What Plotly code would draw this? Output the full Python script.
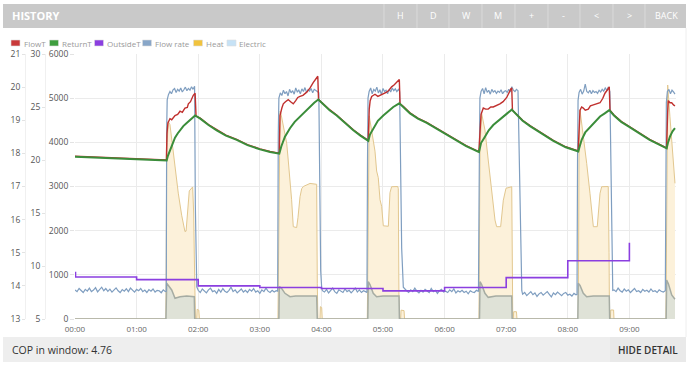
import pandas as pd
import plotly.graph_objects as go

BASE = pd.Timestamp("2024-01-01 00:00")

# ---------------- data (minutes since 00:00, values) ----------------
returnT_min = [0, 30, 60, 89.3, 90.5, 92.5, 95, 97.4, 100, 102.3, 105.5, 108.8, 112, 116.2, 117.0,
               122, 130, 138, 147, 157.5, 168, 180.2, 190, 199.0,
               201, 204.5, 209.4, 214, 219.2, 224, 228.9, 233, 237.0,
               242, 248, 254.9, 263, 271.1, 278, 285.7,
               287.3, 290.5, 295, 300.3, 305, 310, 315.9,
               320, 326.3, 334, 342.6, 355, 368.5, 381, 393.5,
               395.5, 399.3, 403, 407.4, 412, 417.2, 421, 425.4,
               430, 436, 443.2, 454, 465.9, 478, 490.2,
               491.9, 493.5, 497, 501.6, 506, 511.4, 516, 520.4,
               525, 532, 540.2, 550, 559.7, 568, 576.3,
               577.5, 579.5, 582, 584.4]
returnT_val = [20.3, 20.2, 20.1, 19.95, 20.4, 20.9, 21.6, 22.1, 22.5, 22.8, 23.2, 23.5, 23.8, 24.15, 24.2,
               23.9, 23.3, 22.8, 22.3, 21.9, 21.4, 21.0, 20.75, 20.6,
               21.3, 22.2, 23.0, 23.6, 24.1, 24.6, 25.0, 25.4, 25.7,
               25.2, 24.7, 24.2, 23.5, 22.8, 22.3, 21.8,
               22.4, 23.0, 23.7, 24.2, 24.6, 25.0, 25.35,
               25.0, 24.4, 23.9, 23.5, 22.8, 22.0, 21.3, 20.75,
               21.6, 22.2, 22.8, 23.3, 23.7, 24.1, 24.4, 24.75,
               24.3, 23.7, 23.2, 22.5, 21.8, 21.2, 20.8,
               21.4, 21.9, 22.6, 23.1, 23.6, 24.1, 24.4, 24.7,
               24.2, 23.6, 23.1, 22.5, 21.9, 21.5, 21.1,
               21.6, 22.2, 22.7, 23.0]

flowT_min = [0, 30, 60, 89.0, 89.6, 90.5, 92.5, 94.2, 97.4, 100, 102.3, 104.5, 107.1, 109.4, 110.4, 112.5, 115.2, 116.2, 117.0, 117.9,
             122, 130, 138, 147, 157.5, 168, 180.2, 190, 198.9,
             199.7, 201.5, 202.9, 205, 207.7, 210, 212.6, 215, 217, 219.2, 222, 225.7, 229, 232, 235.4, 236.5, 237.2,
             242, 248, 254.9, 263, 271.1, 278, 285.6,
             286.6, 287.5, 289.0, 292.2, 295, 297.1, 300.3, 303.6, 306, 308.4, 311, 314.9, 315.9, 316.6,
             320, 326.3, 334, 342.6, 355, 368.5, 381, 393.4,
             395.5, 397.7, 400, 402.5, 405, 407.4, 410, 413.9, 417, 420.5, 424.5, 425.4, 426.1,
             430, 436, 443.2, 454, 465.9, 478, 490.1,
             491.9, 493.5, 495.1, 497, 500, 502, 504.9, 508, 511.4, 514, 516.2, 518.5, 520.4, 521.1,
             525, 532, 540.2, 550, 559.7, 568, 576.2,
             577.3, 577.9, 579.5, 581.2, 583, 584.4]
flowT_val = [20.35, 20.25, 20.15, 20.0, 22.5, 23.5, 23.9, 23.8, 24.2, 24.3, 24.6, 24.5, 24.9, 24.95, 25.3, 25.5, 26.1, 26.3, 26.3, 24.15,
             23.95, 23.35, 22.85, 22.35, 21.95, 21.45, 21.05, 20.8, 20.65,
             24.2, 24.9, 25.3, 25.5, 25.7, 25.5, 25.3, 25.6, 25.9, 26.0, 26.1, 26.4, 26.8, 27.3, 27.85, 27.9, 25.7,
             25.25, 24.75, 24.25, 23.55, 22.85, 22.35, 21.85,
             24.8, 25.6, 26.0, 26.2, 26.0, 26.1, 26.3, 26.4, 26.6, 26.9, 27.1, 27.5, 27.6, 25.3,
             25.05, 24.45, 23.95, 23.55, 22.85, 22.05, 21.35, 20.8,
             24.3, 24.9, 24.8, 24.8, 25.0, 25.0, 25.1, 25.3, 25.5, 25.9, 26.7, 26.8, 24.7,
             24.35, 23.75, 23.25, 22.55, 21.85, 21.25, 20.85,
             24.7, 25.0, 24.9, 24.7, 24.8, 25.1, 25.2, 25.3, 25.4, 25.8, 26.3, 26.6, 26.9, 24.7,
             24.25, 23.65, 23.15, 22.55, 21.95, 21.55, 21.15,
             24.5, 25.6, 25.4, 25.4, 25.2, 25.1]

outside_min = [0, 0.5, 60, 120, 180, 240, 300, 360, 420, 480, 540]
outside_val = [14.40, 14.27, 14.19, 14.00, 13.95, 13.92, 13.85, 13.95, 14.25, 14.76, 15.30]

flowrate_min = [0, 2, 4, 6, 8, 10, 12, 14, 16, 18, 20, 22, 24, 26, 28, 30, 32, 34, 36, 38, 40, 42, 44, 46, 48,
                50, 52, 54, 56, 58, 60, 62, 64, 66, 68, 70, 72, 74, 76, 78, 80, 82, 84, 86, 88, 88.9,
                89.3, 89.8, 91, 92.5, 94, 95.5, 97, 98.5, 100, 101.5, 103, 104.5, 106, 107.5, 109, 110.5, 112, 113.5,
                115, 116.5, 117.2, 118, 118.6,
                120, 122, 124, 126, 128, 130, 132, 134, 136, 138, 140, 142, 144, 146, 148, 150, 152, 154, 156, 158,
                160, 162, 164, 166, 168, 170, 172, 174, 176, 178, 180, 182, 184, 186, 188, 190, 192, 194, 196, 197.4,
                198.0, 198.6, 200, 201.5, 203, 204.5, 206, 207.5, 209, 210.5, 212, 213.5, 215, 216.5, 218, 219.5,
                221, 222.5, 224, 225.5, 227, 228.5, 230, 231.5, 233, 234.5, 236, 237.5, 238.6, 239.3, 240.3,
                241, 243, 245, 247, 249, 251, 253, 255, 257, 259, 261, 263, 265, 267, 269, 271, 273, 275, 277, 279,
                281, 283, 284.4,
                284.9, 285.4, 286.5, 288, 289.5, 291, 292.5, 294, 295.5, 297, 298.5, 300, 301.5, 303, 304.5, 306,
                307.5, 309, 310.5, 312, 313.5, 315, 316.2, 317.2, 318.2, 319.8,
                321, 323, 325, 327, 329, 331, 333, 335, 337, 339, 341, 343, 345, 347, 349, 351, 353, 355, 357, 359,
                361, 363, 365, 367, 369, 371, 373, 375, 377, 379, 381, 383, 385, 387, 389, 391, 393,
                393.9, 394.4, 395.5, 397, 398.5, 400, 401.5, 403, 404.5, 406, 407.5, 409, 410.5, 412, 413.5, 415,
                416.5, 418, 419.5, 421, 422.5, 424, 425.5, 427, 428.5, 430, 431.5, 432.8, 434, 435.2,
                436, 438, 440, 442, 444, 446, 448, 450, 452, 454, 456, 458, 460, 462, 464, 466, 468, 470, 472, 474,
                476, 478, 480, 482, 484, 486, 488, 489.0,
                489.5, 490.0, 491, 492.5, 494, 495.5, 497, 498.5, 500, 501.5, 503, 504.5, 506, 507.5, 509, 510.5,
                512, 513.5, 515, 516.5, 518, 519.5, 521.0, 522.0, 523.0, 523.8,
                525, 527, 529, 531, 533, 535, 537, 539, 541, 543, 545, 547, 549, 551, 553, 555, 557, 559, 561, 563,
                565, 567, 569, 571, 573, 575,
                575.5, 576.0, 577, 578.5, 580, 581.5, 583, 584.4]
flowrate_val = [660, 620, 690, 640, 600, 670, 630, 700, 620, 655, 710, 615, 665, 720, 640, 690, 625, 675, 610, 650,
                705, 640, 600, 665, 630, 685, 620, 700, 650, 610, 670, 640, 690, 620, 655, 600, 665, 630, 680, 610,
                650, 640, 595, 660, 620, 630,
                4300, 4960, 5080, 5150, 5100, 5190, 5220, 5130, 5200, 5160, 5230, 5140, 5190, 5250, 5170, 5220, 5180,
                5260, 5200, 5270, 2600, 900, 730,
                650, 600, 680, 630, 590, 660, 700, 620, 640, 580, 670, 610, 690, 630, 600, 650, 720, 620, 660, 590,
                640, 680, 610, 650, 600, 670, 630, 690, 610, 640, 580, 660, 620, 700, 630, 600, 650, 610, 640, 630,
                4200, 5000, 5120, 5060, 5180, 5100, 5150, 5050, 5200, 5120, 5170, 5090, 5230, 5140, 5180, 5100,
                5210, 5150, 5240, 5130, 5190, 5160, 5220, 5120, 5200, 5180, 5150, 5120, 3000, 1100, 700,
                640, 610, 670, 590, 650, 700, 620, 580, 660, 630, 600, 680, 620, 650, 590, 640, 700, 610, 660, 600,
                640, 620, 600,
                3500, 5000, 5150, 5230, 5100, 5200, 5160, 5250, 5120, 5190, 5080, 5220, 5150, 5180, 5100, 5200,
                5140, 5230, 5170, 5210, 5150, 5200, 5150, 3600, 1600, 720,
                680, 640, 600, 660, 620, 700, 630, 590, 650, 610, 670, 640, 600, 690, 620, 650, 580, 640, 670, 610,
                630, 600, 660, 620, 680, 590, 640, 610, 650, 600, 630, 570, 640, 610, 600, 650, 620,
                3800, 5000, 5150, 5220, 5100, 5240, 5130, 5180, 5090, 5200, 5140, 5170, 5110, 5160, 5130, 5190,
                5100, 5150, 5170, 5130, 5200, 5140, 5260, 5180, 5150, 5200, 5170, 3200, 1400, 640,
                560, 600, 530, 580, 620, 550, 590, 510, 570, 600, 540, 580, 620, 560, 500, 590, 550, 610, 570, 530,
                580, 600, 540, 560, 520, 580, 550, 560,
                3600, 4950, 5130, 5200, 5090, 5160, 5320, 5150, 5120, 5180, 5100, 5170, 5130, 5150, 5110, 5180,
                5140, 5200, 5160, 5230, 5180, 5250, 5150, 3000, 1200, 650,
                660, 620, 700, 640, 610, 680, 630, 660, 600, 650, 690, 620, 640, 600, 670, 630, 650, 610, 680, 620,
                640, 600, 660, 630, 610, 640,
                3000, 4900, 5150, 5200, 5100, 5180, 5140, 5090]

heat_min = [0, 88.6,
            89.3, 90.9, 92.5, 94.2, 97.4, 100.6, 103.9, 107.1, 108.2, 109.4, 111.3, 114.6, 115.6, 116.2, 116.9, 117.3,
            118.5, 119.0, 120.6, 121.2,
            197.7, 199.0, 199.7, 200.6, 202.9, 204.5, 206.2, 207.7, 209.4, 211.0, 212.6, 215.9, 217.2, 219.2, 220.8,
            222.4, 228.9, 235.4, 236.0, 236.6, 238.6, 239.0, 240.3, 240.8,
            284.7, 285.7, 286.6, 287.3, 289.0, 290.5, 292.2, 293.8, 295.4, 297.1, 298.7, 300.3, 305.2, 306.8, 308.4,
            314.4, 314.9, 315.6, 316.0, 317.2, 317.6, 320.5, 321.0,
            393.5, 394.5, 396.1, 397.7, 399.3, 402.5, 405.8, 409.1, 410.7, 414.6, 417.2, 419.8, 425.4, 426.0, 426.4,
            426.9, 427.3, 430.0, 430.5,
            490.2, 491.0, 491.9, 493.5, 495.1, 498.4, 501.6, 504.3, 504.9, 508.7, 511.4, 513.0, 519.4, 520.2, 520.6,
            521.5, 521.8, 524.6, 525.0,
            575.6, 576.3, 577.3, 579.5, 582.2, 584.4]
heat_val = [0, 0,
            3800, 4470, 4400, 4050, 3400, 2850, 2350, 1980, 1990, 2300, 2900, 2990, 2400, 1450, 150, 0,
            0, 220, 200, 0,
            0, 4000, 4700, 4650, 4400, 4200, 3980, 3600, 3200, 2700, 2090, 2070, 2300, 2770, 2950,
            3000, 3070, 3050, 800, 0, 0, 280, 260, 0,
            0, 3900, 4600, 4500, 4250, 3950, 3800, 3350, 3200, 2700, 2550, 2110, 2100, 2860, 2995,
            3000, 2950, 300, 0, 0, 200, 190, 0,
            0, 3900, 4650, 4500, 4280, 3600, 2850, 2240, 2090, 2090, 2690, 2960, 2995, 400, 0,
            0, 165, 165, 0,
            0, 4000, 4730, 4450, 4130, 3525, 2846, 2316, 2090, 2090, 2846, 2995, 3000, 1500, 0,
            0, 204, 204, 0,
            0, 3500, 5298, 4580, 3826, 3072]

elec_min = [0, 88.6, 89.3, 91.0, 94.2, 97.4, 102.3, 108.8, 114.6, 116.2, 116.6,
            198.6, 199.0, 201.0, 204.5, 209.4, 215, 235.4, 236.0,
            285.2, 285.7, 287.3, 290.5, 293.8, 300, 315.6, 316.0,
            394.0, 394.5, 396.1, 399.3, 402.5, 410, 425.4, 425.8,
            489.8, 490.2, 491.9, 495.1, 498.4, 505, 520.4, 520.8,
            575.8, 576.3, 578.0, 581.2, 584.4]
elec_val = [0, 0, 808, 760, 657, 468, 505, 520, 505, 505, 0,
            0, 731, 700, 582, 505, 520, 520, 0,
            0, 845, 780, 582, 505, 520, 520, 0,
            0, 845, 780, 582, 490, 520, 520, 0,
            0, 808, 760, 582, 505, 520, 520, 0,
            0, 883, 800, 543, 446]

hour_ticks = [0, 1, 2, 3, 4, 5, 6, 7, 8, 9]
x_end_min = 585.4

legend_names = ["FlowT", "ReturnT", "OutsideT", "Flow rate", "Heat", "Electric"]
legend_colors = ["#c9393a", "#3e9e3e", "#8b3fe0", "#88a6c8", "#f1c33e", "#c6e2f6"]
header_buttons = ["H", "D", "W", "M", "+", "-", "<", ">", "BACK"]
cop_value = 4.76


def tt(mins):
    return BASE + pd.to_timedelta(mins, unit="min")


W, H = 690, 368
FONT = "Open Sans"


def px(x):
    return x / W


def py(y):
    return 1 - y / H


fig = go.Figure()

fig.add_trace(go.Scatter(x=tt(heat_min), y=heat_val, mode="lines", line=dict(color="#e2c78f", width=1),
                         fill="tozeroy", fillcolor="#fcf1da", yaxis="y", hoverinfo="skip"))
fig.add_trace(go.Scatter(x=tt(elec_min), y=elec_val, mode="lines", line=dict(color="#a6aca3", width=1.5),
                         fill="tozeroy", fillcolor="#dfe2d7", yaxis="y", hoverinfo="skip"))
fig.add_trace(go.Scatter(x=tt(flowrate_min), y=flowrate_val, mode="lines", line=dict(color="#7f9ec0", width=1.2),
                         yaxis="y", hoverinfo="skip"))
fig.add_trace(go.Scatter(x=tt(outside_min), y=outside_val, mode="lines", line=dict(color="#8b3fe0", width=1.6, shape="hv"),
                         yaxis="y3", hoverinfo="skip"))
fig.add_trace(go.Scatter(x=tt(flowT_min), y=flowT_val, mode="lines", line=dict(color="#c0302e", width=1.4),
                         yaxis="y2", hoverinfo="skip"))
fig.add_trace(go.Scatter(x=tt(returnT_min), y=returnT_val, mode="lines", line=dict(color="#3a8d3a", width=2),
                         yaxis="y2", hoverinfo="skip"))

tickfont = dict(family=FONT, size=8.5, color="#555")

fig.update_layout(
    width=W, height=H, margin=dict(l=0, r=0, t=0, b=0, pad=0, autoexpand=False),
    paper_bgcolor="white", plot_bgcolor="white", showlegend=False,
    xaxis=dict(type="date", domain=[px(75), px(676)], range=[tt(0), tt(x_end_min)],
               tickvals=[tt(h * 60) for h in hour_ticks], tickformat="%H:%M",
               showgrid=True, gridcolor="#ebebeb", gridwidth=1, zeroline=False, showline=False,
               ticks="outside", ticklen=2, tickcolor="rgba(0,0,0,0)",
               tickfont=dict(family=FONT, size=8, color="#666"), automargin=False),
    yaxis=dict(domain=[py(319), py(54)], range=[0, 6000], dtick=1000, showgrid=True, gridcolor="#ebebeb",
               zeroline=False, showline=False, ticks="outside", ticklen=4, tickcolor="#e3e3e3",
               tickfont=tickfont, automargin=False),
    yaxis2=dict(overlaying="y", anchor="free", position=px(45), side="left", range=[5, 30], dtick=5,
                showgrid=False, zeroline=False, showline=True, linecolor="#f0f0f0", ticks="outside",
                ticklen=3, tickcolor="#e3e3e3", tickfont=tickfont, automargin=False),
    yaxis3=dict(overlaying="y", anchor="free", position=px(25), side="left", range=[13, 21], dtick=1,
                showgrid=False, zeroline=False, showline=True, linecolor="#f0f0f0", ticks="outside",
                ticklen=3, tickcolor="#e3e3e3", tickfont=tickfont, automargin=False),
)

shapes = []
annos = []
# header bar
shapes.append(dict(type="rect", xref="paper", yref="paper", x0=px(3), x1=px(686), y0=py(28), y1=py(4),
                   fillcolor="#c9c9c9", line=dict(width=0), layer="below"))
annos.append(dict(x=px(10), y=py(16), xref="paper", yref="paper", text="<b>HISTORY</b>", showarrow=False,
                  xanchor="left", yanchor="middle", font=dict(family=FONT, size=11, color="white")))
sep_x = [384, 417, 449, 482, 515, 548, 580, 613, 645]
lab_x = [400, 433, 466, 498, 531, 563, 596, 629, 666]
for sx in sep_x:
    shapes.append(dict(type="line", xref="paper", yref="paper", x0=px(sx), x1=px(sx), y0=py(28), y1=py(4),
                       line=dict(color="#dadada", width=1)))
for lx, lab in zip(lab_x, header_buttons):
    annos.append(dict(x=px(lx), y=py(16), xref="paper", yref="paper", text=lab, showarrow=False,
                      xanchor="center", yanchor="middle", font=dict(family=FONT, size=9, color="white")))

# legend
box_x = [11, 49.5, 94.5, 142.5, 193.5, 227]
for bx, name, col in zip(box_x, legend_names, legend_colors):
    shapes.append(dict(type="rect", xref="paper", yref="paper", x0=px(bx), x1=px(bx + 9), y0=py(46), y1=py(40),
                       fillcolor=col, line=dict(color="#dddddd", width=0.6)))
    annos.append(dict(x=px(bx + 10.5), y=py(43), xref="paper", yref="paper", text=name, showarrow=False,
                      xanchor="left", yanchor="middle", font=dict(family=FONT, size=8, color="#9a9a9a")))

# right border of panel
shapes.append(dict(type="line", xref="paper", yref="paper", x0=px(686), x1=px(686), y0=py(337), y1=py(28),
                   line=dict(color="#eeeeee", width=1)))

# bottom bar
shapes.append(dict(type="rect", xref="paper", yref="paper", x0=px(3), x1=px(686), y0=py(362), y1=py(337),
                   fillcolor="#eeeeee", line=dict(width=0), layer="below"))
shapes.append(dict(type="rect", xref="paper", yref="paper", x0=px(610), x1=px(686), y0=py(362), y1=py(337),
                   fillcolor="#e9e9e9", line=dict(width=0), layer="below"))
annos.append(dict(x=px(10), y=py(349.5), xref="paper", yref="paper", text=f"COP in window: {cop_value}",
                  showarrow=False, xanchor="left", yanchor="middle", font=dict(family=FONT, size=10.5, color="#333")))
annos.append(dict(x=px(648), y=py(349.5), xref="paper", yref="paper", text="HIDE DETAIL",
                  showarrow=False, xanchor="center", yanchor="middle",
                  font=dict(family=FONT, size=10, color="#333", weight=600)))

fig.update_layout(shapes=shapes, annotations=annos)
fig.write_html("out.html", config={"displayModeBar": False},
               post_script="document.body.style.margin='0';document.body.style.overflow='hidden';")
